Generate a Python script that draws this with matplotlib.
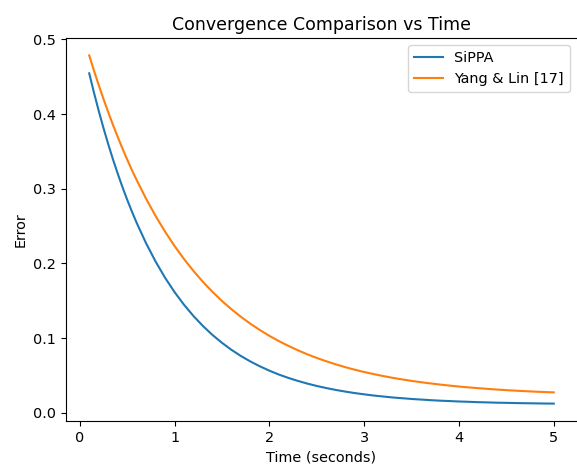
import matplotlib
matplotlib.use("Agg")
import matplotlib.pyplot as plt

# values
time_s = [0.1, 0.15, 0.2, 0.25, 0.3, 0.35, 0.4, 0.45, 0.5, 0.55,
          0.6, 0.7, 0.8, 0.9, 1.0, 1.1, 1.2, 1.3, 1.4, 1.5,
          1.6, 1.7, 1.8, 1.9, 2.0, 2.1, 2.2, 2.3, 2.4, 2.5,
          2.6, 2.7, 2.8, 2.9, 3.0, 3.1, 3.2, 3.3, 3.4, 3.5,
          3.6, 3.7, 3.8, 3.9, 4.0, 4.1, 4.2, 4.3, 4.4, 4.5,
          4.6, 4.7, 4.8, 4.9, 5.0]

sippa_err = [0.4545, 0.4287, 0.4043, 0.3814, 0.3598, 0.3395, 0.3204, 0.3024, 0.2854, 0.2695,
             0.2544, 0.2269, 0.2025, 0.1808, 0.1616, 0.1446, 0.1295, 0.1161, 0.1042, 0.0937,
             0.0843, 0.0760, 0.0687, 0.0622, 0.0564, 0.0512, 0.0467, 0.0427, 0.0391, 0.0359,
             0.0331, 0.0306, 0.0284, 0.0264, 0.0247, 0.0231, 0.0218, 0.0205, 0.0195, 0.0185,
             0.0177, 0.0169, 0.0162, 0.0157, 0.0151, 0.0147, 0.0142, 0.0139, 0.0135, 0.0133,
             0.0130, 0.0128, 0.0126, 0.0124, 0.0123]

yang_lin_err = [0.4785, 0.4582, 0.4388, 0.4203, 0.4026, 0.3856, 0.3695, 0.3540, 0.3392, 0.3251,
                0.3117, 0.2865, 0.2635, 0.2425, 0.2233, 0.2058, 0.1898, 0.1752, 0.1619, 0.1497,
                0.1386, 0.1285, 0.1192, 0.1108, 0.1030, 0.0960, 0.0896, 0.0837, 0.0783, 0.0734,
                0.0690, 0.0649, 0.0611, 0.0577, 0.0546, 0.0518, 0.0492, 0.0468, 0.0447, 0.0427,
                0.0409, 0.0393, 0.0378, 0.0364, 0.0351, 0.0340, 0.0330, 0.0320, 0.0311, 0.0303,
                0.0296, 0.0289, 0.0283, 0.0278, 0.0273]

plt.rcParams["font.size"] = 10.4

fig = plt.figure(figsize=(5.77, 4.66), dpi=100)
# reference is cropped just at the right spine, so axes run to the edge
ax = fig.add_axes([66 / 577, 45 / 466, 511 / 577, 383 / 466])

ax.plot(time_s, sippa_err, label="SiPPA")
ax.plot(time_s, yang_lin_err, label="Yang & Lin [17]")

ax.set_title("Convergence Comparison vs Time", fontsize=12.5)
ax.set_xlabel("Time (seconds)")
ax.set_ylabel("Error")
ax.set_yticks([0.0, 0.1, 0.2, 0.3, 0.4, 0.5])
ax.spines["right"].set_visible(False)
ax.legend(loc="upper right")

fig.savefig("out.png", dpi=100)
